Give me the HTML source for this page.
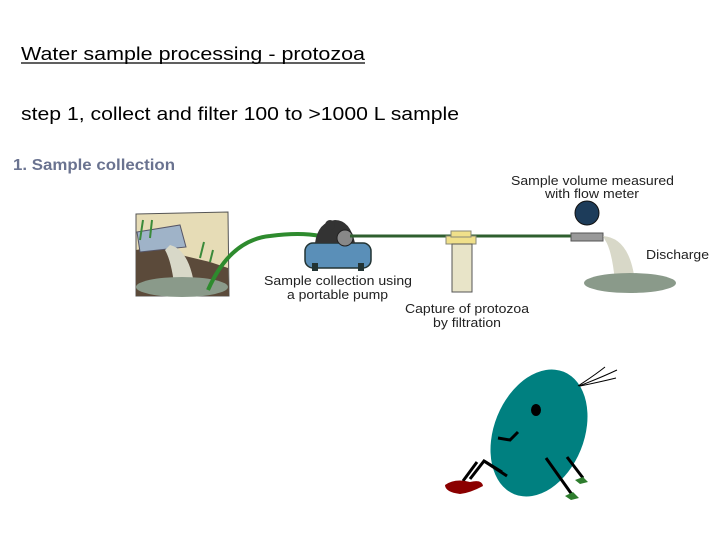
<!DOCTYPE html>
<html><head><meta charset="utf-8"><style>
body{margin:0;background:#fff;}
svg{display:block}
</style></head><body>
<svg width="720" height="540" xmlns="http://www.w3.org/2000/svg" font-family="Liberation Sans, sans-serif">
<rect width="720" height="540" fill="#fff"/>
<text x="21" y="60" font-size="18.5" fill="#000" textLength="344" lengthAdjust="spacingAndGlyphs">Water sample processing - protozoa</text>
<line x1="21" y1="63" x2="365" y2="63" stroke="#000" stroke-width="1.2"/>
<text x="21" y="120" font-size="18.5" fill="#000" textLength="438" lengthAdjust="spacingAndGlyphs">step 1, collect and filter 100 to &gt;1000 L sample</text>
<text x="13" y="170" font-size="15.5" font-weight="bold" fill="#6a7390" textLength="162" lengthAdjust="spacingAndGlyphs">1. Sample collection</text>

<path d="M136 214 L228 212 L229 296 L136 296 Z" fill="#e6dcb6" stroke="#555" stroke-width="1"/>
<path d="M136 250 L160 246 L185 256 L210 262 L228 268 L229 296 L136 296 Z" fill="#5b4a3a"/>
<path d="M137 232 L180 225 L186 247 L140 252 Z" fill="#9fb3c8" stroke="#556" stroke-width="1"/>
<path d="M170 245 Q190 250 195 290 L175 292 Q172 262 165 250 Z" fill="#d8d8c8"/>
<ellipse cx="182" cy="287" rx="46" ry="10" fill="#8a9a8a"/>
<path d="M140 240 l3 -20 M150 238 l2 -18 M200 258 l4 -16 M210 262 l3 -12" stroke="#3a8a3a" stroke-width="2"/>

<path d="M208 290 Q230 240 270 236 Q300 232 320 236" stroke="#2e8b2e" stroke-width="4" fill="none"/>
<rect x="305" y="243" width="66" height="25" rx="8" fill="#5a8fb8" stroke="#233" stroke-width="1.5"/>
<rect x="312" y="263" width="6" height="8" fill="#233"/><rect x="358" y="263" width="6" height="8" fill="#233"/>
<path d="M315 243 Q318 222 335 220 Q350 220 355 243 Z" fill="#333"/>
<circle cx="330" cy="225" r="5" fill="#333"/>
<circle cx="345" cy="238" r="8" fill="#888" stroke="#222"/>
<line x1="350" y1="236" x2="578" y2="236" stroke="#2f5f2f" stroke-width="3"/>
<rect x="446" y="236" width="30" height="8" fill="#f0e08a" stroke="#887"/>
<rect x="451" y="231" width="20" height="6" fill="#f0e08a" stroke="#887"/>
<rect x="452" y="244" width="20" height="48" fill="#e8e4c8" stroke="#555"/>
<circle cx="587" cy="213" r="12" fill="#1d3c5a" stroke="#111"/>
<rect x="571" y="233" width="32" height="8" fill="#999" stroke="#555"/>
<path d="M603 236 Q630 238 635 282 L615 282 Q612 250 605 240 Z" fill="#d8d8c8"/>
<ellipse cx="630" cy="283" rx="46" ry="10" fill="#8a9a8a"/>

<g font-size="13" fill="#222">
<text x="511" y="185" textLength="163" lengthAdjust="spacingAndGlyphs">Sample volume measured</text>
<text x="545" y="198" textLength="94" lengthAdjust="spacingAndGlyphs">with flow meter</text>
<text x="646" y="259" textLength="63" lengthAdjust="spacingAndGlyphs">Discharge</text>
<text x="264" y="285" textLength="148" lengthAdjust="spacingAndGlyphs">Sample collection using</text>
<text x="287" y="299" textLength="101" lengthAdjust="spacingAndGlyphs">a portable pump</text>
<text x="405" y="313" textLength="124" lengthAdjust="spacingAndGlyphs">Capture of protozoa</text>
<text x="433" y="327" textLength="68" lengthAdjust="spacingAndGlyphs">by filtration</text>
</g>

<ellipse cx="539" cy="433" rx="45" ry="66" transform="rotate(22 539 433)" fill="#008080"/>
<g stroke="#000" stroke-width="3" fill="none">
<path d="M470 479 L484 461 L502 472"/>
<path d="M463 481 L477 462"/>
<path d="M498 438 L510 440 L518 432"/>
<path d="M546 458 L573 496"/>
<path d="M567 457 L583 478"/>
<path d="M484 461 L507 476"/>
</g>
<ellipse cx="536" cy="410" rx="5" ry="6" fill="#000"/>
<g stroke="#000" stroke-width="1" fill="none">
<path d="M578 386 Q595 375 605 367"/><path d="M579 386 Q600 378 617 370"/><path d="M580 386 Q600 382 616 378"/>
</g>
<path d="M445 485 Q455 478 470 482 Q482 479 483 486 Q470 493 460 494 Q445 492 445 485 Z" fill="#8b0000"/>
<path d="M565 496 l8 -4 l6 6 l-8 2 z M575 480 l8 -3 l5 5 l-8 2z" fill="#2e7d2e"/>
</svg>
</body></html>
